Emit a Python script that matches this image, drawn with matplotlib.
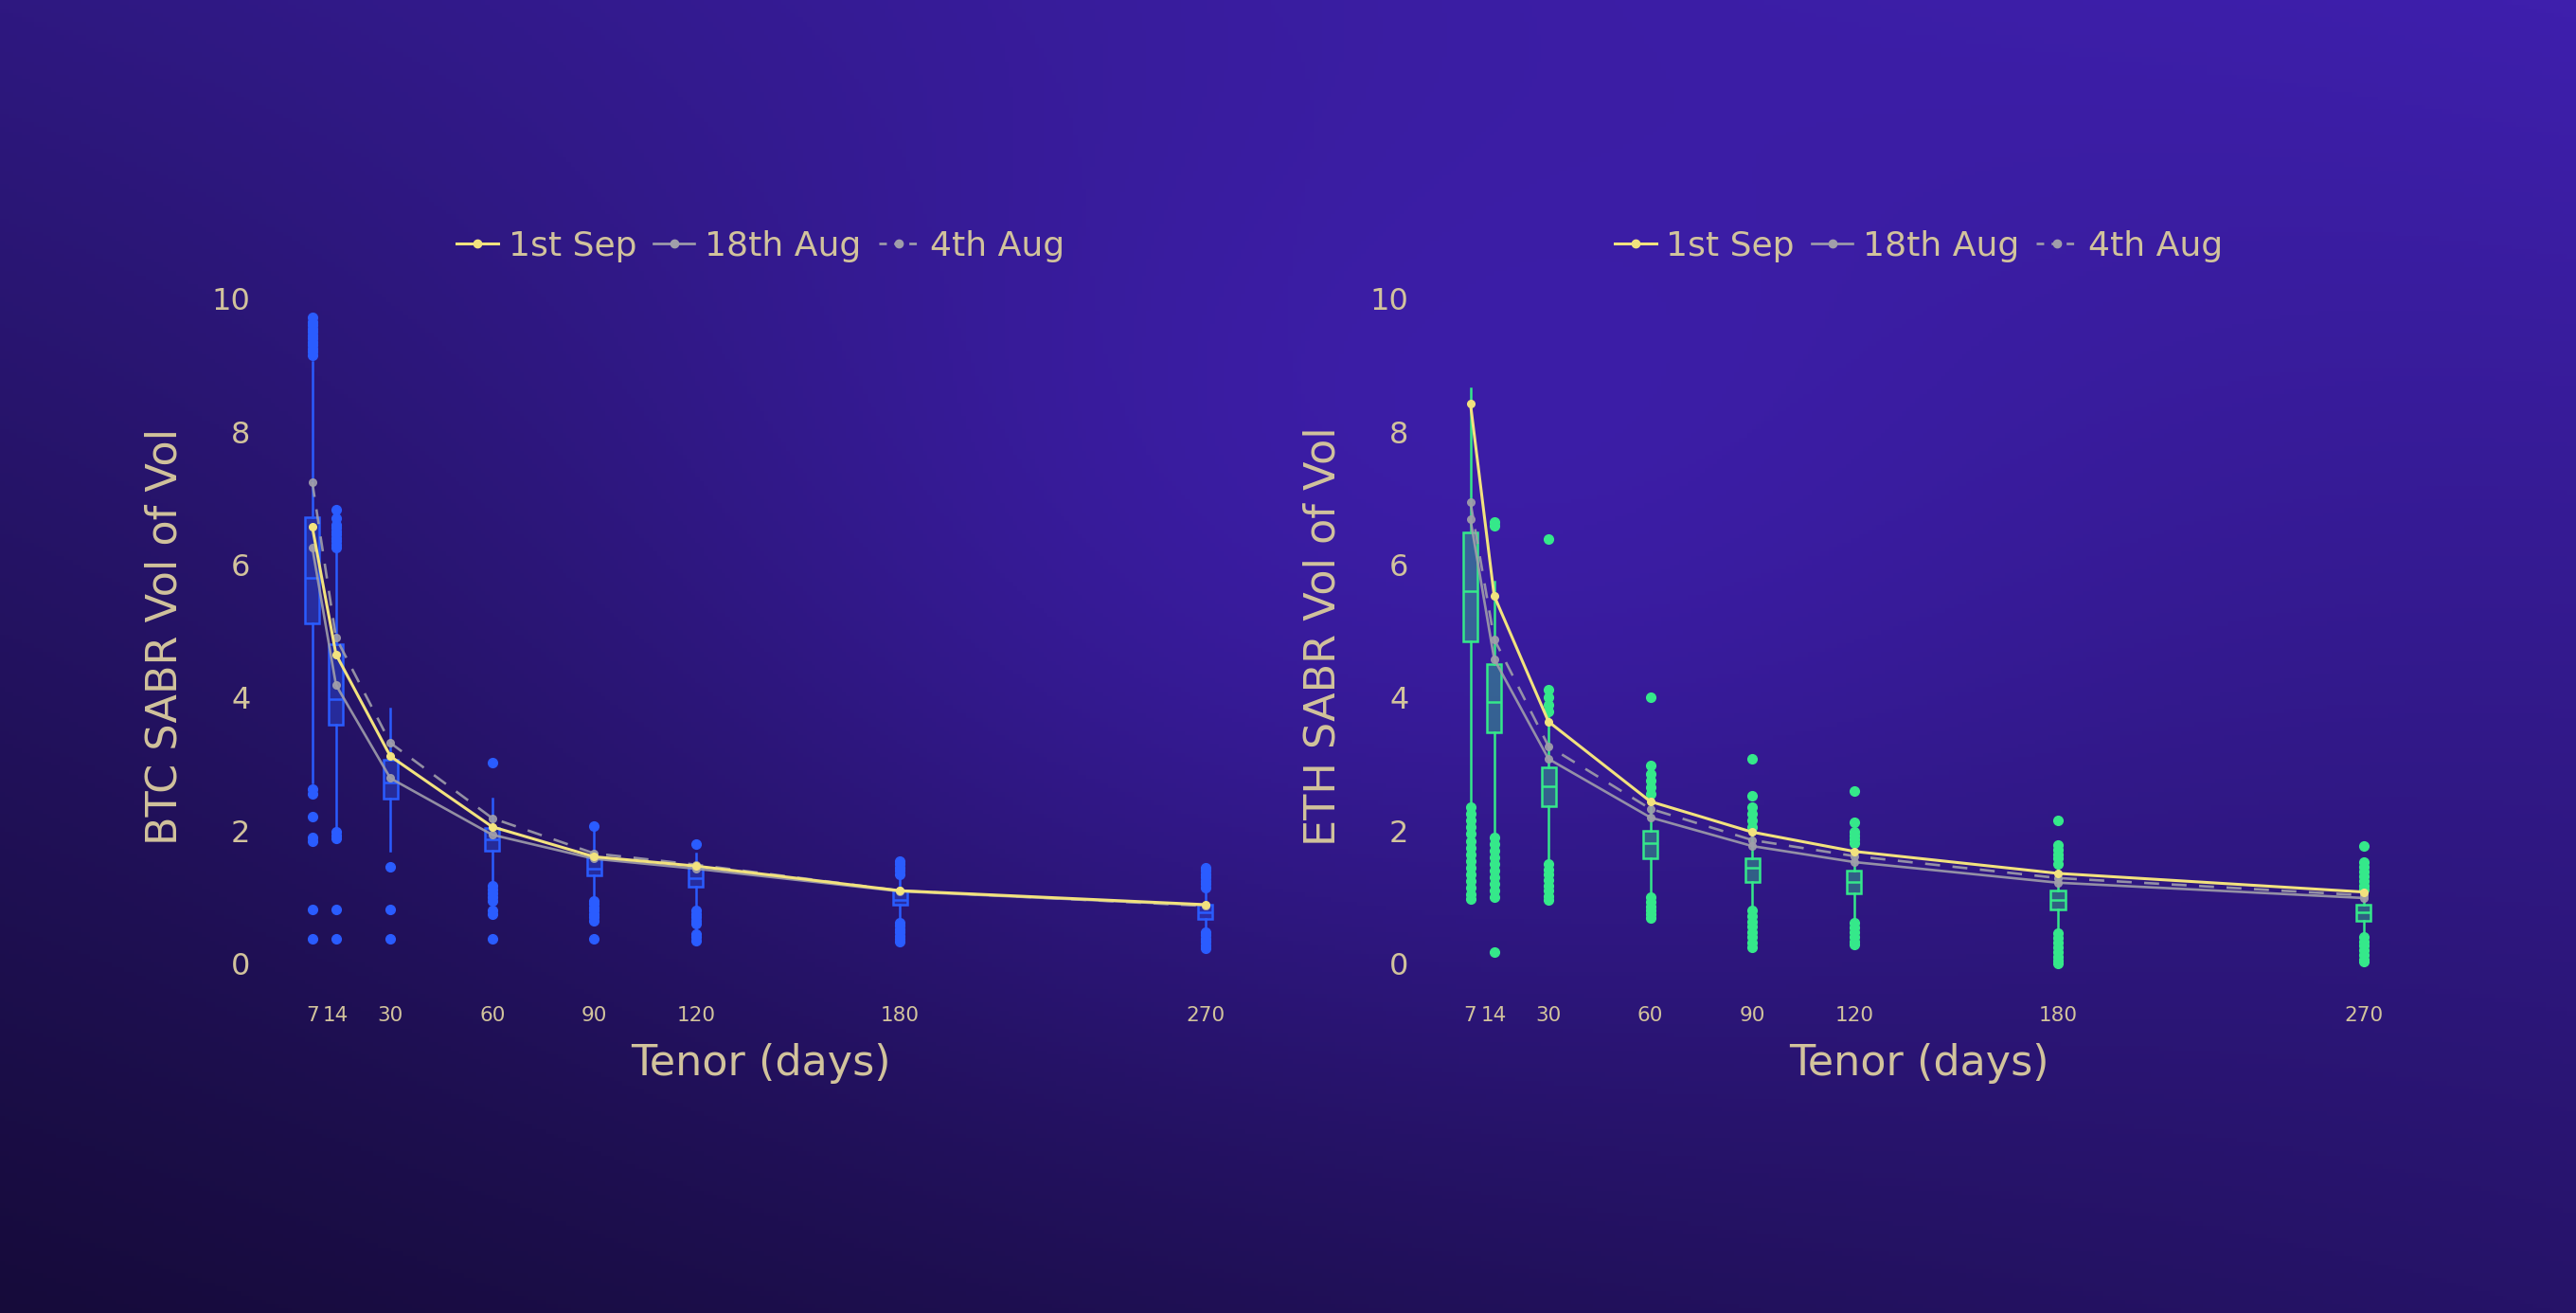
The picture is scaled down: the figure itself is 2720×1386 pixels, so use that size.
import numpy as np
import matplotlib
matplotlib.use("Agg")
import matplotlib.pyplot as plt
from matplotlib.lines import Line2D
from matplotlib.colors import to_rgba

plt.rcParams['font.family'] = ['DejaVu Sans']

# ---- data ----
tenors = [7, 14, 30, 60, 90, 120, 180, 270]
tenor_labels = ['7', '14', '30', '60', '90', '120', '180', '270']
legend_labels = ['1st Sep', '18th Aug', '4th Aug']

btc_q1 = [5.12, 3.60, 2.48, 1.70, 1.33, 1.16, 0.89, 0.67]
btc_med = [5.80, 3.98, 2.72, 1.87, 1.43, 1.29, 0.96, 0.77]
btc_q3 = [6.71, 4.80, 3.07, 2.04, 1.60, 1.46, 1.10, 0.89]
btc_lo = [2.72, 2.04, 1.70, 1.22, 0.99, 0.85, 0.67, 0.53]
btc_hi = [9.05, 6.20, 3.83, 2.48, 2.00, 1.66, 1.29, 1.10]
btc_out = [
    [9.15, 9.2, 9.25, 9.3, 9.35, 9.4, 9.45, 9.5, 9.55, 9.6, 9.65, 9.72, 2.62, 2.55, 2.21, 1.90, 1.84, 0.82, 0.38],
    [6.25, 6.3, 6.35, 6.4, 6.45, 6.5, 6.55, 6.6, 6.7, 6.82, 1.98, 1.93, 1.88, 0.82, 0.38],
    [1.46, 0.82, 0.38],
    [3.02, 1.18, 1.12, 1.06, 1.00, 0.95, 0.80, 0.75, 0.38],
    [2.07, 0.95, 0.90, 0.85, 0.80, 0.75, 0.70, 0.65, 0.38],
    [1.80, 0.80, 0.75, 0.70, 0.65, 0.60, 0.45, 0.40, 0.35],
    [1.55, 1.50, 1.45, 1.40, 1.35, 0.62, 0.57, 0.52, 0.47, 0.42, 0.37, 0.33],
    [1.45, 1.40, 1.35, 1.30, 1.25, 1.20, 1.15, 0.48, 0.43, 0.38, 0.33, 0.28, 0.24],
]

eth_q1 = [4.85, 3.48, 2.37, 1.59, 1.23, 1.06, 0.82, 0.65]
eth_med = [5.60, 3.93, 2.67, 1.82, 1.44, 1.23, 0.96, 0.77]
eth_q3 = [6.49, 4.51, 2.96, 2.00, 1.59, 1.40, 1.10, 0.89]
eth_lo = [2.41, 1.98, 1.56, 1.04, 0.83, 0.65, 0.49, 0.44]
eth_hi = [8.65, 5.74, 3.72, 2.50, 1.98, 1.78, 1.45, 1.05]
eth_out = [
    [2.35, 2.25, 2.15, 2.05, 1.95, 1.85, 1.75, 1.65, 1.55, 1.45, 1.35, 1.25, 1.15, 1.05, 0.97],
    [6.64, 6.58, 1.90, 1.80, 1.70, 1.60, 1.50, 1.40, 1.30, 1.20, 1.10, 1.00, 0.18],
    [6.38, 4.12, 4.00, 3.90, 3.80, 1.50, 1.42, 1.34, 1.26, 1.18, 1.10, 1.02, 0.96],
    [4.01, 2.98, 2.85, 2.75, 2.65, 2.56, 1.00, 0.93, 0.86, 0.80, 0.74, 0.69],
    [3.08, 2.53, 2.35, 2.25, 2.15, 2.05, 0.80, 0.72, 0.64, 0.56, 0.48, 0.40, 0.32, 0.25],
    [2.60, 2.13, 1.99, 1.93, 1.87, 1.81, 0.62, 0.55, 0.48, 0.41, 0.34, 0.29],
    [2.15, 1.79, 1.72, 1.65, 1.58, 1.50, 0.46, 0.39, 0.32, 0.25, 0.18, 0.11, 0.05, 0.01],
    [1.77, 1.53, 1.46, 1.39, 1.32, 1.25, 1.18, 1.11, 0.41, 0.34, 0.27, 0.20, 0.13, 0.07, 0.03],
]

btc_sep1 = [6.57, 4.65, 3.12, 2.06, 1.61, 1.47, 1.10, 0.89]
btc_aug18 = [6.26, 4.19, 2.79, 1.94, 1.58, 1.43, 1.09, 0.88]
btc_aug4 = [7.24, 4.90, 3.32, 2.19, 1.66, 1.49, 1.10, 0.87]
eth_sep1 = [8.42, 5.53, 3.64, 2.44, 1.98, 1.69, 1.36, 1.08]
eth_aug18 = [6.68, 4.58, 3.08, 2.20, 1.77, 1.53, 1.22, 0.99]
eth_aug4 = [6.94, 4.88, 3.27, 2.33, 1.86, 1.62, 1.29, 1.03]

TEXT = '#d2c39c'
YELLOW = '#f2e27e'
GREY = '#a09eaa'

fig = plt.figure(figsize=(27.2, 13.86), dpi=100)

# background gradient
bg = fig.add_axes([0, 0, 1, 1], zorder=-10)
bg.axis('off')
h, w = 300, 600
yy, xx = np.mgrid[0:1:h * 1j, 0:1:w * 1j]
tl = np.array([46, 24, 128]); tr = np.array([62, 31, 172])
bl = np.array([22, 11, 58]); br = np.array([38, 19, 104])
img = ((1 - xx)[..., None] * (1 - yy)[..., None] * tl + xx[..., None] * (1 - yy)[..., None] * tr
       + (1 - xx)[..., None] * yy[..., None] * bl + xx[..., None] * yy[..., None] * br)
glow = np.exp(-(((xx - 0.53) / 0.3) ** 2 + ((yy - 0.44) / 0.38) ** 2))
img = img + glow[..., None] * np.array([14, 6, 40])
bg.imshow(np.clip(img / 255, 0, 1), aspect='auto', extent=[0, 1, 0, 1], origin='upper')
bg.set_xlim(0, 1); bg.set_ylim(0, 1)


def panel(rect, q1, med, q3, lo, hi, out, color, sep1, aug18, aug4, ylabel):
    ax = fig.add_axes(rect)
    ax.set_facecolor('none')
    stats = []
    for i in range(len(tenors)):
        stats.append(dict(q1=q1[i], med=med[i], q3=q3[i], whislo=lo[i], whishi=hi[i], fliers=out[i]))
    ax.bxp(stats, positions=tenors, widths=4.2, showcaps=False, patch_artist=True,
           boxprops=dict(facecolor=to_rgba(color, 0.35), edgecolor=color, linewidth=1.8),
           whiskerprops=dict(color=color, linewidth=1.8),
           medianprops=dict(color=color, linewidth=1.8),
           flierprops=dict(marker='o', markerfacecolor=color, markeredgecolor=color, markersize=7),
           manage_ticks=False, zorder=2)
    ax.plot(tenors, aug4, color=GREY, lw=1.9, ls=(0, (6, 5)), marker='o', ms=5.5, zorder=3, alpha=0.9)
    ax.plot(tenors, aug18, color=GREY, lw=1.9, marker='o', ms=5.5, zorder=3, alpha=0.9)
    ax.plot(tenors, sep1, color=YELLOW, lw=2.2, marker='o', ms=5.5, zorder=4)
    ax.set_xlim(-10, 288)
    ax.set_ylim(-0.45, 10.3)
    ax.set_xticks(tenors)
    ax.set_xticklabels(tenor_labels)
    ax.set_yticks([0, 2, 4, 6, 8, 10])
    ax.tick_params(axis='x', length=0, pad=9, labelsize=15.5, colors=TEXT)
    ax.tick_params(axis='y', length=0, pad=3, labelsize=23, colors=TEXT)
    for s in ax.spines.values():
        s.set_visible(False)
    ax.set_xlabel('Tenor (days)', fontsize=32, color=TEXT, labelpad=14)
    ax.set_ylabel(ylabel, fontsize=32, color=TEXT, labelpad=20)
    handles = [Line2D([], [], color=YELLOW, lw=2.2, marker='o', ms=6),
               Line2D([], [], color=GREY, lw=1.9, marker='o', ms=6),
               Line2D([], [], color=GREY, lw=1.9, ls=(0, (3, 3)), marker='o', ms=6)]
    ax.legend(handles, legend_labels, loc='center', bbox_to_anchor=(0.5, 1.045), ncol=3,
              frameon=False, fontsize=26, labelcolor=TEXT, handlelength=1.2,
              handletextpad=0.3, columnspacing=0.5)
    return ax


panel([0.0988, 0.2431, 0.3929, 0.5448], btc_q1, btc_med, btc_q3, btc_lo, btc_hi, btc_out,
      '#2a5cff', btc_sep1, btc_aug18, btc_aug4, 'BTC SABR Vol of Vol')
panel([0.5484, 0.2431, 0.3929, 0.5448], eth_q1, eth_med, eth_q3, eth_lo, eth_hi, eth_out,
      '#35e88a', eth_sep1, eth_aug18, eth_aug4, 'ETH SABR Vol of Vol')

fig.savefig('out.png', dpi=100)
